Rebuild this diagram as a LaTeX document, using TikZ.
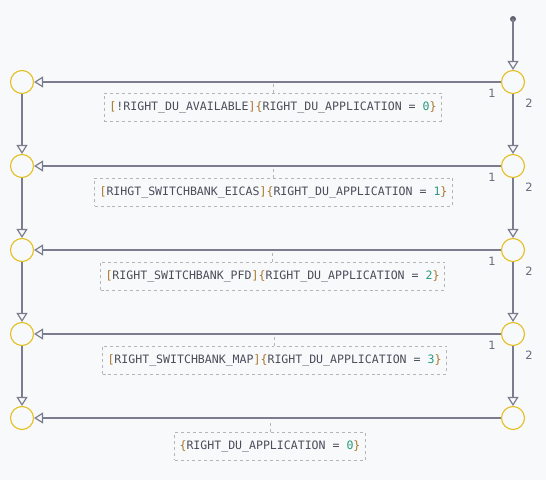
\documentclass[tikz,border=0pt]{standalone}
\usepackage{fontspec}
\setmonofont{DejaVu Sans Mono}
\setsansfont{DejaVu Sans}
\usetikzlibrary{arrows.meta}

\definecolor{bgcol}{HTML}{F8F9FA}
\definecolor{edgecol}{HTML}{7B7D8E}
\definecolor{statecol}{HTML}{E6BE22}
\definecolor{boxcol}{HTML}{B5B5B8}
\definecolor{txtcol}{HTML}{4A4E5A}
\definecolor{bkcol}{HTML}{A8742A}
\definecolor{numcol}{HTML}{2A9A7E}

\newcommand{\bk}[1]{\textcolor{bkcol}{#1}}
\newcommand{\nm}[1]{\textcolor{numcol}{#1}}

\tikzset{
    state/.style={circle, draw=statecol, line width=1.1bp, fill=bgcol, minimum size=23bp, inner sep=0pt},
    trans/.style={draw=edgecol, line width=1.2bp, -{Triangle[open, length=9bp, width=11bp, fill=bgcol]}},
    guard/.style={draw=boxcol, dashed, line width=0.7bp, fill=bgcol, minimum height=28bp, inner xsep=5bp,
        font=\ttfamily\fontsize{11.6}{13}\selectfont, text=txtcol},
    tick/.style={draw=boxcol, dashed, line width=0.7bp},
    num/.style={font=\sffamily\fontsize{11.5}{13}\selectfont, text=edgecol!85!black}
}

\begin{document}
\begin{tikzpicture}[x=1bp, y=-1bp]
    \fill[bgcol] (0, 0) rectangle (546, 480);
    \useasboundingbox (0, 0) rectangle (546, 480);

    % states
    \foreach \i/\y in {1/82, 2/166, 3/250, 4/334, 5/418} {
        \node[state] (L\i) at (22, \y) {};
        \node[state] (R\i) at (513, \y) {};
    }

    % start
    \fill[edgecol!80!black] (513, 19) circle (3bp);
    \coordinate (init) at (513, 19);
    \draw[trans] (init) -- (R1);

    % vertical transitions
    \foreach \i/\j in {1/2, 2/3, 3/4, 4/5} {
        \draw[trans] (L\i) -- (L\j);
        \draw[trans] (R\i) -- (R\j);
        \node[num] at (492, 82 + 84*\i - 73) {1};
        \node[num] at (529, 82 + 84*\i - 63) {2};
    }

    % horizontal transitions
    \foreach \i in {1, ..., 5} {
        \draw[trans] (R\i) -- (L\i);
    }

    % guards
    \node[guard] (G1) at (273, 107) {\bk{[}!RIGHT\_DU\_AVAILABLE\bk{]}\bk{\{}RIGHT\_DU\_APPLICATION = \nm{0}\bk{\}}};
    \node[guard] (G2) at (273.5, 192) {\bk{[}RIHGT\_SWITCHBANK\_EICAS\bk{]}\bk{\{}RIGHT\_DU\_APPLICATION = \nm{1}\bk{\}}};
    \node[guard] (G3) at (272.5, 276) {\bk{[}RIGHT\_SWITCHBANK\_PFD\bk{]}\bk{\{}RIGHT\_DU\_APPLICATION = \nm{2}\bk{\}}};
    \node[guard] (G4) at (274.5, 360) {\bk{[}RIGHT\_SWITCHBANK\_MAP\bk{]}\bk{\{}RIGHT\_DU\_APPLICATION = \nm{3}\bk{\}}};
    \node[guard] (G5) at (270, 446) {\bk{\{}RIGHT\_DU\_APPLICATION = \nm{0}\bk{\}}};

    % ticks from edges to guards
    \foreach \i/\y in {1/82, 2/166, 3/250, 4/334, 5/418} {
        \draw[tick] (G\i.north) -- ++(0, -9);
    }
\end{tikzpicture}
\end{document}
